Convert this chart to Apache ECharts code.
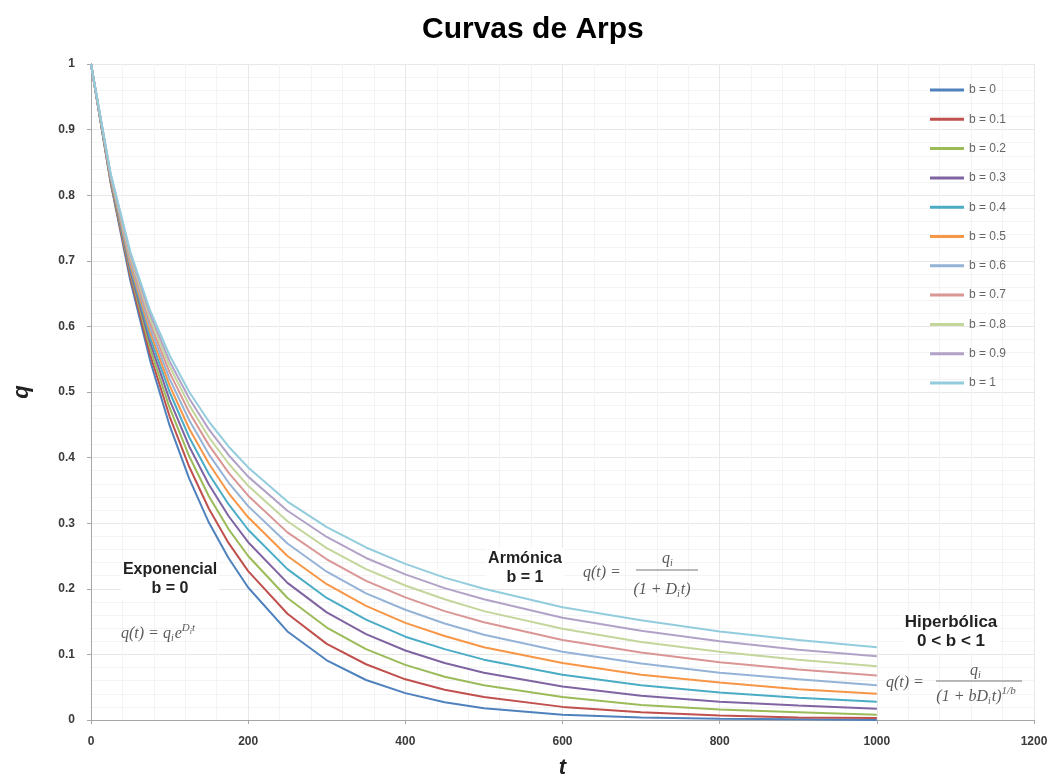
<!DOCTYPE html>
<html>
<head>
<meta charset="utf-8">
<script src="https://cdn.jsdelivr.net/npm/echarts@6/dist/echarts.min.js"></script>
<style>html,body{margin:0;padding:0;background:#fff}#c{width:1053px;height:782px}</style>
</head>
<body>
<div id="c"></div>
<script>
// time values (t)
const tValues = [0,25,50,75,100,125,150,175,200,250,300,350,400,450,500,600,700,800,900,1000];
const seriesNames = ['b = 0','b = 0.1','b = 0.2','b = 0.3','b = 0.4','b = 0.5','b = 0.6','b = 0.7','b = 0.8','b = 0.9','b = 1'];
// q values, one list per curve
const q_b00 = [1,0.819,0.670,0.549,0.449,0.368,0.301,0.247,0.202,0.135,0.091,0.061,0.041,0.027,0.018,0.008,0.004,0.002,0.001,0.000];
const q_b01 = [1,0.820,0.676,0.558,0.463,0.386,0.322,0.270,0.227,0.162,0.116,0.085,0.062,0.046,0.035,0.020,0.012,0.007,0.004,0.003];
const q_b02 = [1,0.822,0.681,0.567,0.476,0.402,0.341,0.291,0.250,0.186,0.141,0.108,0.084,0.066,0.053,0.035,0.023,0.016,0.012,0.008];
const q_b03 = [1,0.824,0.685,0.576,0.488,0.417,0.359,0.311,0.271,0.209,0.164,0.131,0.106,0.087,0.072,0.051,0.037,0.028,0.022,0.017];
const q_b04 = [1,0.825,0.690,0.584,0.500,0.431,0.375,0.329,0.290,0.230,0.186,0.153,0.127,0.108,0.092,0.069,0.053,0.042,0.034,0.028];
const q_b05 = [1,0.826,0.694,0.592,0.510,0.444,0.391,0.346,0.309,0.250,0.207,0.174,0.148,0.128,0.111,0.087,0.069,0.057,0.047,0.040];
const q_b06 = [1,0.828,0.699,0.599,0.520,0.457,0.405,0.362,0.326,0.269,0.226,0.193,0.168,0.147,0.130,0.104,0.086,0.072,0.062,0.053];
const q_b07 = [1,0.829,0.703,0.606,0.530,0.469,0.419,0.377,0.342,0.286,0.245,0.212,0.187,0.166,0.149,0.122,0.103,0.088,0.077,0.068];
const q_b08 = [1,0.831,0.707,0.613,0.539,0.480,0.431,0.391,0.357,0.303,0.262,0.230,0.205,0.184,0.166,0.139,0.119,0.104,0.092,0.082];
const q_b09 = [1,0.832,0.711,0.619,0.547,0.490,0.443,0.404,0.371,0.319,0.279,0.247,0.222,0.201,0.184,0.156,0.136,0.120,0.107,0.097];
const q_b10 = [1,0.833,0.714,0.625,0.556,0.500,0.455,0.417,0.385,0.333,0.294,0.263,0.238,0.217,0.200,0.172,0.152,0.135,0.122,0.111];
const allQ = [q_b00,q_b01,q_b02,q_b03,q_b04,q_b05,q_b06,q_b07,q_b08,q_b09,q_b10];
const xTicks = [0,200,400,600,800,1000,1200];
const yTicks = [0,0.1,0.2,0.3,0.4,0.5,0.6,0.7,0.8,0.9,1];
const colors = ['#4F81BD','#C0504D','#9BBB59','#8064A2','#4BACC6','#F79646','#95B3D7','#D99694','#C3D69B','#B3A2C7','#93CDDD'];

const chart = echarts.init(document.getElementById('c'), null, {renderer:'canvas'});
const serif = '"Liberation Serif","DejaVu Serif",serif';
const sans = '"Liberation Sans",Arial,sans-serif';
const fc = '#5a5a5a';
const richF = {
  m:{fill:fc, font:'italic 16px '+serif, lineHeight:22, verticalAlign:'middle'},
  sub:{fill:fc, font:'italic 10px '+serif, lineHeight:10, verticalAlign:'bottom', padding:[0,1,2,0]},
  sup:{fill:fc, font:'italic 11px '+serif, lineHeight:11, verticalAlign:'top', padding:[0,0,0,0]},
  supsub:{fill:fc, font:'italic 8px '+serif, lineHeight:8, verticalAlign:'top', padding:[5,0,0,0]}
};
function rt(x, y, text, align){
  return {type:'text', x:x, y:y, z:1, style:{text:text, rich:richF, align:align||'left', verticalAlign:'middle'}};
}
function label(x, y, text, size){
  return {type:'text', x:x, y:y, z:1, style:{text:text, fill:'#222', font:'bold '+(size||16)+'px '+sans, align:'center', verticalAlign:'middle', lineHeight:19, backgroundColor:'#fff', padding:[1,2]}};
}

const option = {
  backgroundColor:'#fff',
  animation:false,
  title:{text:'Curvas de Arps', left:417, top:10, textStyle:{fontFamily:sans, fontSize:30, fontWeight:'bold', color:'#000'}},
  color: colors,
  legend:{
    orient:'vertical', left:925, top:78, itemWidth:34, itemHeight:3, itemGap:15.3, icon:'rect',
    textStyle:{fontFamily:sans, fontSize:12, color:'#666', lineHeight:14},
    data: seriesNames
  },
  grid:{left:91, right:19, top:64, bottom:62, containLabel:false, outerBoundsMode:'none'},
  xAxis:{
    type:'value', min:xTicks[0], max:xTicks[xTicks.length-1], interval:200,
    name:'t', nameLocation:'middle', nameGap:37,
    nameTextStyle:{fontFamily:sans, fontSize:22, fontWeight:'bold', fontStyle:'italic', color:'#222'},
    axisLine:{show:true, lineStyle:{color:'#a6a6a6'}},
    axisTick:{show:true, length:4, lineStyle:{color:'#a6a6a6'}},
    axisLabel:{fontFamily:sans, fontSize:12, fontWeight:'bold', color:'#3a3a3a', margin:16, formatter:v=>String(v)},
    splitLine:{show:true, lineStyle:{color:'#e8e8e8', width:1}},
    minorTick:{show:false, splitNumber:5},
    minorSplitLine:{show:true, lineStyle:{color:'#f4f4f4', width:1}}
  },
  yAxis:{
    type:'value', min:yTicks[0], max:yTicks[yTicks.length-1], interval:0.1,
    name:'q', nameLocation:'middle', nameGap:58, nameRotate:90,
    nameTextStyle:{fontFamily:sans, fontSize:22, fontWeight:'bold', fontStyle:'italic', color:'#222'},
    axisLine:{show:true, lineStyle:{color:'#a6a6a6'}},
    axisTick:{show:true, length:4, lineStyle:{color:'#a6a6a6'}},
    axisLabel:{fontFamily:sans, fontSize:12, fontWeight:'bold', color:'#3a3a3a', margin:16,
      formatter:v=>String(Math.round(v*10)/10)},
    splitLine:{show:true, lineStyle:{color:'#e8e8e8', width:1}},
    minorTick:{show:false, splitNumber:5},
    minorSplitLine:{show:true, lineStyle:{color:'#f4f4f4', width:1}}
  },
  series: seriesNames.map((n,i)=>({
    name:n, type:'line', showSymbol:false, smooth:false,
    lineStyle:{width:2, color:colors[i]}, itemStyle:{color:colors[i]},
    data: tValues.map((t,k)=>[t, allQ[i][k]]),
    z: 2+i
  })),
  graphic:[
    label(170, 579, 'Exponencial\nb = 0'),
    rt(121, 634, '{m|q(t) = q}{sub|i}{m|e}{sup|D}{supsub|i}{sup|t}'),

    label(525, 568, 'Armónica\nb = 1'),
    rt(583, 573, '{m|q(t) =}'),
    rt(668, 559, '{m|q}{sub|i}', 'center'),
    {type:'line', z:1, shape:{x1:636, y1:570, x2:698, y2:570}, style:{stroke:'#777', lineWidth:1}},
    rt(662, 590, '{m|(1 + D}{sub|i}{m|t)}', 'center'),

    label(951, 632, 'Hiperbólica\n0 < b < 1', 17),
    rt(886, 683, '{m|q(t) =}'),
    rt(976, 671, '{m|q}{sub|i}', 'center'),
    {type:'line', z:1, shape:{x1:936, y1:681, x2:1022, y2:681}, style:{stroke:'#777', lineWidth:1}},
    rt(976, 697, '{m|(1 + bD}{sub|i}{m|t)}{sup|1/b}', 'center')
  ]
};
chart.setOption(option);
</script>
</body>
</html>
